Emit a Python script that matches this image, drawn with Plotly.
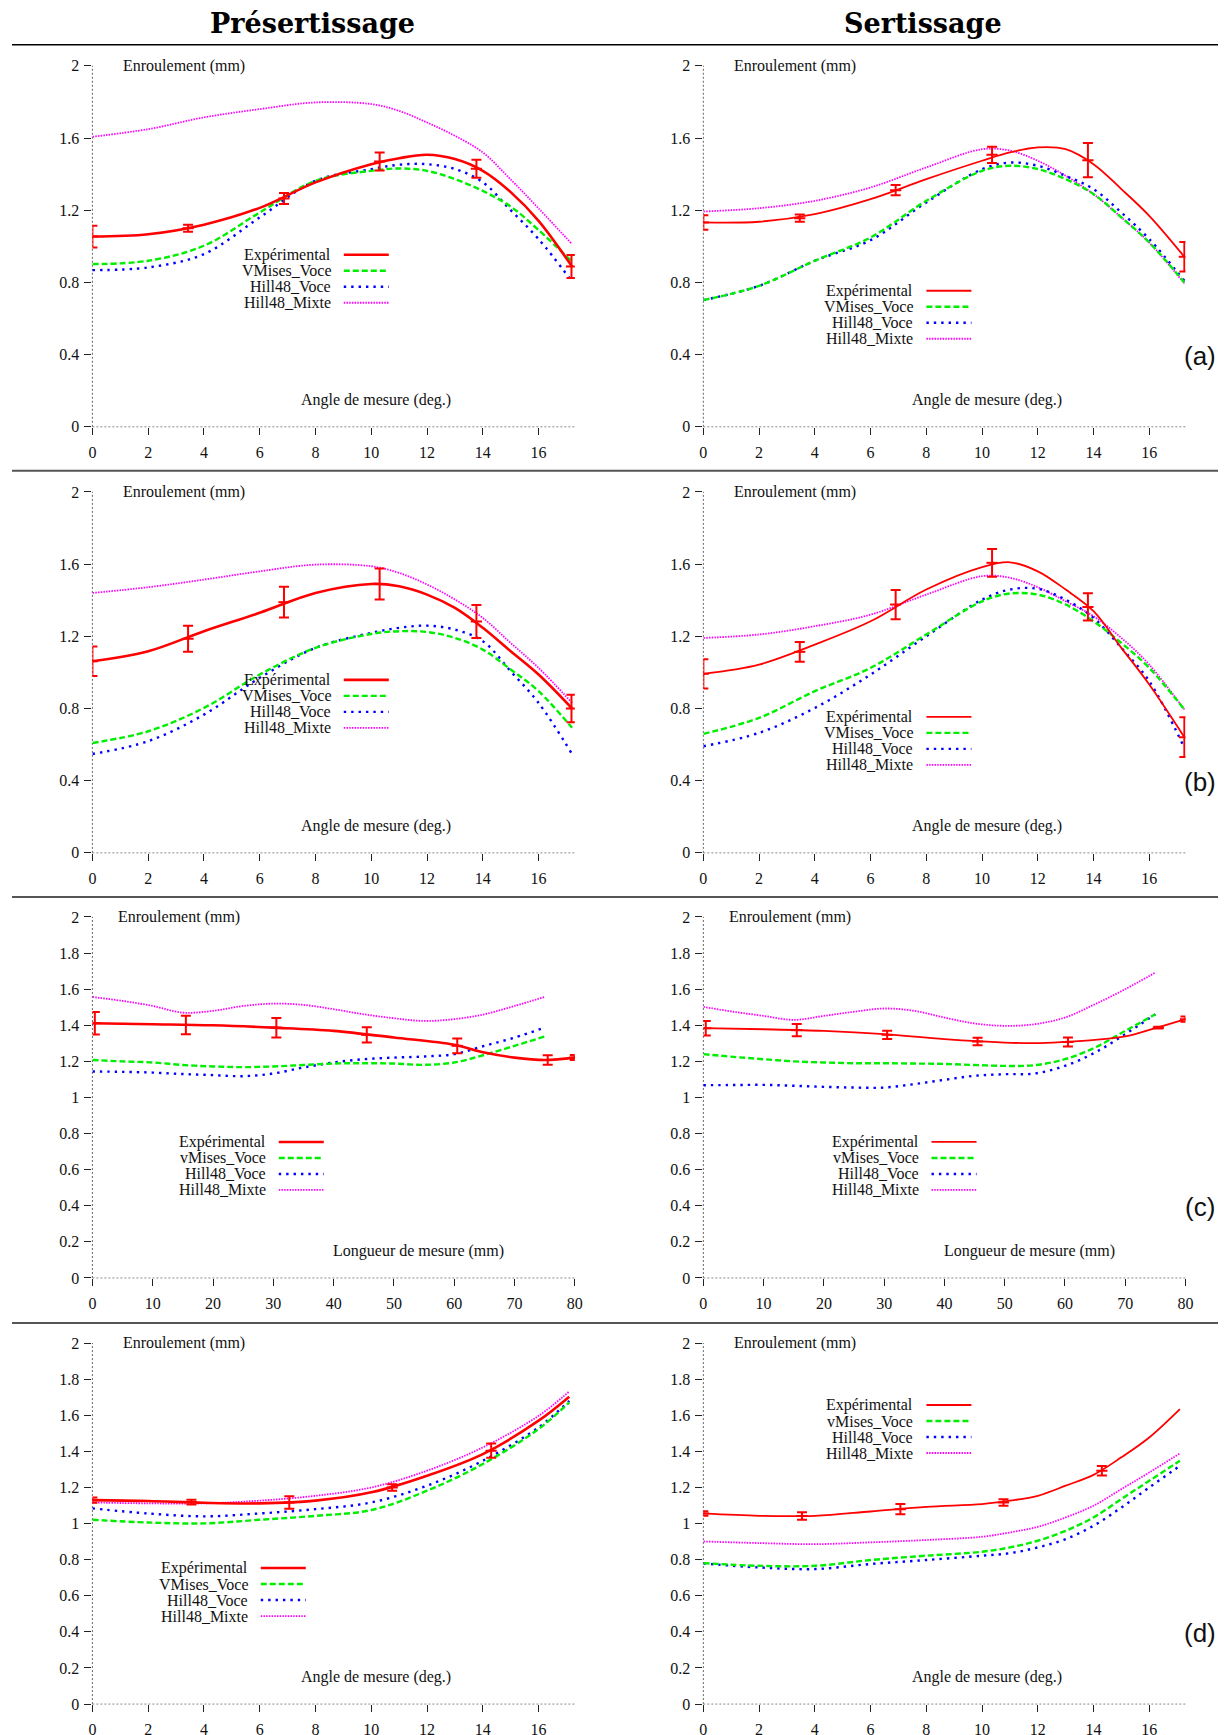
import plotly.graph_objects as go

# ---------------- data ----------------
ANGLE_TICKS = [0, 2, 4, 6, 8, 10, 12, 14, 16]
LENGTH_TICKS = [0, 10, 20, 30, 40, 50, 60, 70, 80]
Y_TICKS_04 = [0, 0.4, 0.8, 1.2, 1.6, 2]
Y_TICKS_02 = [0, 0.2, 0.4, 0.6, 0.8, 1, 1.2, 1.4, 1.6, 1.8, 2]

NAMES_V = ["Expérimental", "VMises_Voce", "Hill48_Voce", "Hill48_Mixte"]
NAMES_v = ["Expérimental", "vMises_Voce", "Hill48_Voce", "Hill48_Mixte"]

# (a) Présertissage
A_PRE_X = [0, 2, 4, 6, 8, 10, 11, 12, 13, 14, 15, 16, 17.2]
A_PRE_EXP = [1.054, 1.067, 1.12, 1.213, 1.354, 1.455, 1.488, 1.507, 1.483, 1.418, 1.30, 1.141, 0.888]
A_PRE_VM = [0.901, 0.92, 1.003, 1.187, 1.363, 1.418, 1.431, 1.418, 1.372, 1.307, 1.22, 1.09, 0.915]
A_PRE_HV = [0.868, 0.883, 0.957, 1.16, 1.363, 1.427, 1.452, 1.455, 1.428, 1.355, 1.20, 1.04, 0.805]
A_PRE_HM = [1.607, 1.649, 1.714, 1.76, 1.797, 1.788, 1.75, 1.686, 1.612, 1.52, 1.37, 1.21, 1.012]
A_PRE_PX = [0, 3.43, 6.87, 10.3, 13.77, 17.18]
A_PRE_PY = [1.054, 1.10, 1.265, 1.47, 1.43, 0.888]
A_PRE_PE = [0.06, 0.02, 0.03, 0.05, 0.05, 0.064]

# (a) Sertissage
A_SER_X = [0, 2, 4, 6, 8, 10, 11, 12, 13, 14, 15, 16, 17.26]
A_SER_EXP = [1.132, 1.136, 1.178, 1.261, 1.372, 1.474, 1.52, 1.548, 1.538, 1.455, 1.317, 1.169, 0.942]
A_SER_VM = [0.702, 0.781, 0.92, 1.049, 1.252, 1.418, 1.446, 1.428, 1.372, 1.289, 1.16, 1.021, 0.80]
A_SER_HV = [0.702, 0.781, 0.92, 1.034, 1.243, 1.427, 1.464, 1.446, 1.39, 1.317, 1.187, 1.04, 0.809]
A_SER_HM = [1.193, 1.211, 1.252, 1.326, 1.437, 1.538, 1.53, 1.474, 1.391, 1.289, 1.16, 1.021, 0.794]
A_SER_PX = [0, 3.46, 6.9, 10.36, 13.8, 17.26]
A_SER_PY = [1.132, 1.156, 1.311, 1.507, 1.477, 0.942]
A_SER_PE = [0.04, 0.02, 0.028, 0.045, 0.095, 0.082]

# (b) Présertissage
B_PRE_X = [0, 2, 4, 6, 8, 10, 11, 12, 13, 14, 15, 16, 17.2]
B_PRE_EXP = [1.062, 1.117, 1.228, 1.33, 1.44, 1.49, 1.477, 1.431, 1.357, 1.247, 1.117, 0.988, 0.80]
B_PRE_VM = [0.609, 0.674, 0.803, 0.988, 1.136, 1.213, 1.228, 1.224, 1.191, 1.126, 1.016, 0.896, 0.693]
B_PRE_HV = [0.548, 0.619, 0.766, 0.97, 1.136, 1.219, 1.247, 1.259, 1.237, 1.173, 1.006, 0.831, 0.548]
B_PRE_HM = [1.44, 1.472, 1.514, 1.56, 1.597, 1.588, 1.551, 1.487, 1.404, 1.302, 1.163, 1.025, 0.831]
B_PRE_PX = [0, 3.43, 6.87, 10.3, 13.77, 17.18]
B_PRE_PY = [1.062, 1.187, 1.389, 1.49, 1.282, 0.80]
B_PRE_PE = [0.082, 0.072, 0.085, 0.086, 0.092, 0.076]

# (b) Sertissage
B_SER_X = [0, 2, 4, 6, 8, 10, 11, 12, 13, 14, 15, 16, 17.26]
B_SER_EXP = [0.992, 1.043, 1.154, 1.283, 1.459, 1.583, 1.61, 1.56, 1.459, 1.339, 1.136, 0.933, 0.641]
B_SER_VM = [0.659, 0.748, 0.896, 1.025, 1.21, 1.394, 1.437, 1.431, 1.376, 1.283, 1.163, 1.025, 0.794]
B_SER_HV = [0.591, 0.665, 0.803, 0.988, 1.20, 1.403, 1.459, 1.463, 1.403, 1.302, 1.136, 0.951, 0.582]
B_SER_HM = [1.191, 1.21, 1.256, 1.32, 1.431, 1.533, 1.524, 1.472, 1.394, 1.311, 1.191, 1.043, 0.794]
B_SER_PX = [0, 3.46, 6.9, 10.36, 13.8, 17.26]
B_SER_PY = [0.992, 1.114, 1.376, 1.607, 1.363, 0.641]
B_SER_PE = [0.081, 0.055, 0.081, 0.077, 0.076, 0.11]

# (c) Présertissage  (length in mm)
C_PRE_XE = [0, 10, 20, 30, 40, 50, 60, 65, 70, 75, 80]
C_PRE_EXP = [1.411, 1.406, 1.40, 1.387, 1.369, 1.332, 1.292, 1.249, 1.221, 1.208, 1.221]
C_PRE_XM = [0, 5, 10, 15, 20, 25, 30, 35, 40, 45, 50, 55, 60, 65, 70, 75]
C_PRE_VM = [1.208, 1.20, 1.194, 1.18, 1.172, 1.168, 1.172, 1.18, 1.188, 1.19, 1.188, 1.181, 1.194, 1.236, 1.286, 1.338]
C_PRE_HV = [1.144, 1.142, 1.138, 1.13, 1.124, 1.118, 1.133, 1.166, 1.194, 1.212, 1.221, 1.227, 1.24, 1.286, 1.332, 1.387]
C_PRE_HM = [1.557, 1.535, 1.507, 1.47, 1.48, 1.507, 1.52, 1.513, 1.489, 1.461, 1.439, 1.424, 1.434, 1.461, 1.507, 1.557]
C_PRE_PX = [0.4, 15.5, 30.5, 45.5, 60.5, 75.5, 80]
C_PRE_PY = [1.411, 1.402, 1.387, 1.347, 1.286, 1.208, 1.221]
C_PRE_PE = [0.062, 0.051, 0.054, 0.042, 0.041, 0.026, 0.014]

# (c) Sertissage
C_SER_XE = [0, 10, 20, 30, 40, 50, 55, 60, 65, 70, 75, 80]
C_SER_EXP = [1.384, 1.378, 1.369, 1.351, 1.323, 1.304, 1.301, 1.308, 1.319, 1.338, 1.384, 1.434]
C_SER_XM = [0, 5, 10, 15, 20, 25, 30, 35, 40, 45, 50, 55, 60, 65, 70, 75]
C_SER_VM = [1.24, 1.225, 1.212, 1.20, 1.194, 1.19, 1.19, 1.188, 1.186, 1.18, 1.175, 1.179, 1.212, 1.277, 1.369, 1.461]
C_SER_HV = [1.068, 1.069, 1.07, 1.065, 1.059, 1.055, 1.055, 1.074, 1.098, 1.12, 1.129, 1.133, 1.175, 1.249, 1.351, 1.461]
C_SER_HM = [1.502, 1.475, 1.452, 1.43, 1.452, 1.475, 1.493, 1.48, 1.443, 1.41, 1.397, 1.406, 1.443, 1.517, 1.60, 1.692]
C_SER_PX = [0.4, 15.5, 30.5, 45.5, 60.5, 75.5, 80]
C_SER_PY = [1.384, 1.373, 1.347, 1.31, 1.308, 1.387, 1.434]
C_SER_PE = [0.04, 0.034, 0.023, 0.021, 0.025, 0.005, 0.015]

# (d) Présertissage
D_PRE_X = [0, 2, 4, 6, 8, 10, 12, 14, 16, 17.1]
D_PRE_EXP = [1.13, 1.125, 1.115, 1.112, 1.127, 1.173, 1.265, 1.385, 1.57, 1.703]
D_PRE_VM = [1.021, 1.006, 1.001, 1.021, 1.043, 1.075, 1.182, 1.33, 1.524, 1.671]
D_PRE_HV = [1.084, 1.056, 1.04, 1.056, 1.08, 1.117, 1.21, 1.348, 1.533, 1.68]
D_PRE_HM = [1.117, 1.112, 1.112, 1.127, 1.154, 1.20, 1.293, 1.422, 1.597, 1.732]
D_PRE_PX = [0, 3.55, 7.06, 10.75, 14.3]
D_PRE_PY = [1.13, 1.119, 1.117, 1.20, 1.404]
D_PRE_PE = [0.015, 0.013, 0.035, 0.018, 0.039]

# (d) Sertissage
D_SER_X = [0, 2, 4, 6, 8, 10, 11, 12, 13, 14, 15, 16, 17.1]
D_SER_EXP = [1.056, 1.043, 1.043, 1.067, 1.093, 1.108, 1.127, 1.154, 1.21, 1.27, 1.367, 1.477, 1.634]
D_SER_VM = [0.781, 0.766, 0.766, 0.798, 0.822, 0.844, 0.868, 0.905, 0.96, 1.034, 1.136, 1.237, 1.348]
D_SER_HV = [0.779, 0.757, 0.748, 0.776, 0.798, 0.822, 0.836, 0.868, 0.914, 0.988, 1.089, 1.20, 1.32]
D_SER_HM = [0.901, 0.892, 0.886, 0.896, 0.909, 0.927, 0.951, 0.982, 1.034, 1.099, 1.191, 1.283, 1.389]
D_SER_PX = [0, 3.54, 7.07, 10.77, 14.3]
D_SER_PY = [1.056, 1.042, 1.08, 1.117, 1.293]
D_SER_PE = [0.012, 0.021, 0.028, 0.018, 0.026]

# ---------------- layout constants (target picture pixels) ----------------
W, H = 1228, 1738
SCALE, OFF_X, OFF_Y = 0.99, 11.3, 15.3      # picture px = SCALE * figure px + OFF
COLS = [(91.7, 574.0), (702.5, 1184.5)]
ROWS = [(65, 426), (491, 852), (916, 1277), (1342, 1703)]
ANGLE_RANGE = [0, 17.3]
LENGTH_RANGE = [0, 80]

RED, GREEN, BLUE, MAGENTA = "#ff0000", "#00ee00", "#0000ff", "#ff00ff"
SERIF = "Liberation Serif"
FS = 16

PANELS = [
    dict(row=0, col=0, xe=A_PRE_X, exp=A_PRE_EXP, xm=A_PRE_X, vm=A_PRE_VM, hv=A_PRE_HV, hm=A_PRE_HM,
         px=A_PRE_PX, py=A_PRE_PY, pe=A_PRE_PE, names=NAMES_V, kind="angle", leg=(332, 254)),
    dict(row=0, col=1, xe=A_SER_X, exp=A_SER_EXP, xm=A_SER_X, vm=A_SER_VM, hv=A_SER_HV, hm=A_SER_HM,
         px=A_SER_PX, py=A_SER_PY, pe=A_SER_PE, names=NAMES_V, kind="angle", leg=(914.5, 290), tag="(a)"),
    dict(row=1, col=0, xe=B_PRE_X, exp=B_PRE_EXP, xm=B_PRE_X, vm=B_PRE_VM, hv=B_PRE_HV, hm=B_PRE_HM,
         px=B_PRE_PX, py=B_PRE_PY, pe=B_PRE_PE, names=NAMES_V, kind="angle", leg=(332, 679)),
    dict(row=1, col=1, xe=B_SER_X, exp=B_SER_EXP, xm=B_SER_X, vm=B_SER_VM, hv=B_SER_HV, hm=B_SER_HM,
         px=B_SER_PX, py=B_SER_PY, pe=B_SER_PE, names=NAMES_V, kind="angle", leg=(914.5, 716), tag="(b)"),
    dict(row=2, col=0, xe=C_PRE_XE, exp=C_PRE_EXP, xm=C_PRE_XM, vm=C_PRE_VM, hv=C_PRE_HV, hm=C_PRE_HM,
         px=C_PRE_PX, py=C_PRE_PY, pe=C_PRE_PE, names=NAMES_v, kind="length", leg=(267, 1141)),
    dict(row=2, col=1, xe=C_SER_XE, exp=C_SER_EXP, xm=C_SER_XM, vm=C_SER_VM, hv=C_SER_HV, hm=C_SER_HM,
         px=C_SER_PX, py=C_SER_PY, pe=C_SER_PE, names=NAMES_v, kind="length", leg=(919.6, 1141), tag="(c)"),
    dict(row=3, col=0, xe=D_PRE_X, exp=D_PRE_EXP, xm=D_PRE_X, vm=D_PRE_VM, hv=D_PRE_HV, hm=D_PRE_HM,
         px=D_PRE_PX, py=D_PRE_PY, pe=D_PRE_PE, names=NAMES_V, kind="angle", leg=(249, 1567)),
    dict(row=3, col=1, xe=D_SER_X, exp=D_SER_EXP, xm=D_SER_X, vm=D_SER_VM, hv=D_SER_HV, hm=D_SER_HM,
         px=D_SER_PX, py=D_SER_PY, pe=D_SER_PE, names=NAMES_v, kind="angle", leg=(914.5, 1404), tag="(d)"),
]


def fx(px):
    return min(max(((px - OFF_X) / SCALE) / W, 0), 1)


def fy(py):
    return min(max(1 - ((py - OFF_Y) / SCALE) / H, 0), 1)


fig = go.Figure()
layout = dict(
    width=W, height=H, margin=dict(l=0, r=0, t=0, b=0),
    paper_bgcolor="white", plot_bgcolor="white", showlegend=False,
    font=dict(family=SERIF, size=FS, color="#111"),
)
shapes = []
annotations = []

for k, p in enumerate(PANELS, start=1):
    thick = 2.6 if p["col"] == 0 else 1.8
    x0px, x1px = COLS[p["col"]]
    y0px, y1px = ROWS[p["row"]]
    xdom = [fx(x0px), fx(x1px)]
    ydom = [fy(y1px), fy(y0px)]
    if p["kind"] == "angle":
        xr, xt = ANGLE_RANGE, ANGLE_TICKS
        xtitle = "Angle de mesure (deg.)"
        xtitle_dx = 284
    else:
        xr, xt = LENGTH_RANGE, LENGTH_TICKS
        xtitle = "Longueur de mesure (mm)"
        xtitle_dx = 326
    yt = Y_TICKS_04 if p["row"] < 2 else Y_TICKS_02
    xs, ys = ("x" if k == 1 else f"x{k}"), ("y" if k == 1 else f"y{k}")
    xk, yk = ("xaxis" if k == 1 else f"xaxis{k}"), ("yaxis" if k == 1 else f"yaxis{k}")

    common = dict(showgrid=False, zeroline=False, showline=False, tickcolor="#222", tickwidth=1,
                  tickfont=dict(family=SERIF, size=FS, color="#111"))
    layout[xk] = dict(domain=xdom, range=xr, anchor=ys, tickmode="array", tickvals=xt,
                      ticktext=[str(v) for v in xt], ticks="outside", ticklen=7,
                      ticklabelstandoff=4, **common)
    layout[yk] = dict(domain=ydom, range=[0, 2.0005], anchor=xs, tickmode="array", tickvals=yt,
                      ticktext=[f"{v:g}" for v in yt], ticks="outside", ticklen=7,
                      ticklabelstandoff=2, **common)
    # overlay axes carrying the inner half of each tick (crossing ticks)
    layout[f"xaxis{k + 8}"] = dict(overlaying=xs, anchor=ys, range=xr, tickmode="array", tickvals=xt,
                                   ticks="inside", ticklen=7, showticklabels=False, **common)
    layout[f"yaxis{k + 8}"] = dict(overlaying=ys, anchor=xs, range=[0, 2.0005], tickmode="array",
                                   tickvals=yt, ticks="inside", ticklen=7, showticklabels=False, **common)

    # dotted axis lines
    shapes.append(dict(type="line", xref=f"{xs} domain", yref=f"{ys} domain", x0=0, x1=0, y0=0, y1=1,
                       line=dict(color="#666", width=1, dash="2px,2px"), layer="below"))
    shapes.append(dict(type="line", xref=f"{xs} domain", yref=f"{ys} domain", x0=0, x1=1, y0=0, y1=0,
                       line=dict(color="#888", width=1, dash="2px,2px"), layer="below"))

    styles = [
        dict(color=RED, width=thick),
        dict(color=GREEN, width=2.4, dash="6px,3px"),
        dict(color=BLUE, width=2.4, dash="2.4px,5px"),
        dict(color=MAGENTA, width=1.8, dash="1.5px,1.2px"),
    ]
    series = [(p["xm"], p["hm"], styles[3]), (p["xm"], p["hv"], styles[2]),
              (p["xm"], p["vm"], styles[1]), (p["xe"], p["exp"], styles[0])]
    names_order = [p["names"][3], p["names"][2], p["names"][1], p["names"][0]]
    for (xx, yy, st), nm in zip(series, names_order):
        fig.add_trace(go.Scatter(x=xx, y=yy, mode="lines", name=nm, line=dict(shape="spline", **st),
                                 xaxis=xs, yaxis=ys, hoverinfo="skip"))
    fig.add_trace(go.Scatter(
        x=p["px"], y=p["py"], mode="markers", name=p["names"][0] + " (mesures)",
        marker=dict(symbol="line-ew", size=8, color=RED, line=dict(color=RED, width=2)),
        error_y=dict(type="data", array=p["pe"], color=RED, thickness=2, width=5),
        xaxis=xs, yaxis=ys, hoverinfo="skip"))

    # axis texts
    ydx = 29 if p["row"] != 2 else 24
    annotations.append(dict(text="Enroulement (mm)", xref="paper", yref="paper", x=fx(x0px + ydx),
                            y=fy(y0px), xanchor="left", yanchor="middle", showarrow=False,
                            font=dict(family=SERIF, size=FS, color="#111")))
    annotations.append(dict(text=xtitle, xref="paper", yref="paper", x=fx(x0px + xtitle_dx),
                            y=fy(y0px + 334), xanchor="center", yanchor="middle", showarrow=False,
                            font=dict(family=SERIF, size=FS, color="#111")))
    if "tag" in p:
        annotations.append(dict(text=p["tag"], xref="paper", yref="paper", x=fx(1199), y=fy(y0px + 290),
                                xanchor="center", yanchor="middle", showarrow=False,
                                font=dict(family="Liberation Sans", size=26, color="#111")))

    # legend (text right-aligned, line sample to its right)
    lx, ly = p["leg"]
    for i, nm in enumerate(p["names"]):
        yy = ly + 16 * i
        annotations.append(dict(text=nm, xref="paper", yref="paper", x=fx(lx), y=fy(yy),
                                xanchor="right", yanchor="middle", showarrow=False,
                                font=dict(family=SERIF, size=FS, color="#111")))
        st = dict(styles[i])
        if i == 0:
            st["width"] = thick
        shapes.append(dict(type="line", xref="paper", yref="paper", x0=fx(lx + 11), x1=fx(lx + 56),
                           y0=fy(yy), y1=fy(yy), line=st))

# column titles and separators
annotations.append(dict(text="<b>Présertissage</b>", xref="paper", yref="paper", x=fx(312), y=fy(23),
                        xanchor="center", yanchor="middle", showarrow=False,
                        font=dict(family="DejaVu Serif", size=27, color="#000")))
annotations.append(dict(text="<b>Sertissage</b>", xref="paper", yref="paper", x=fx(922), y=fy(23),
                        xanchor="center", yanchor="middle", showarrow=False,
                        font=dict(family="DejaVu Serif", size=27, color="#000")))
shapes.append(dict(type="line", xref="paper", yref="paper", x0=fx(6), x1=1, y0=fy(44), y1=fy(44),
                   line=dict(color="#000", width=1.5)))
for sy in (470, 896, 1322):
    shapes.append(dict(type="line", xref="paper", yref="paper", x0=fx(6), x1=1, y0=fy(sy), y1=fy(sy),
                       line=dict(color="#555", width=2)))

layout["shapes"] = shapes
layout["annotations"] = annotations
fig.update_layout(**layout)
fig.write_html("out.html")
